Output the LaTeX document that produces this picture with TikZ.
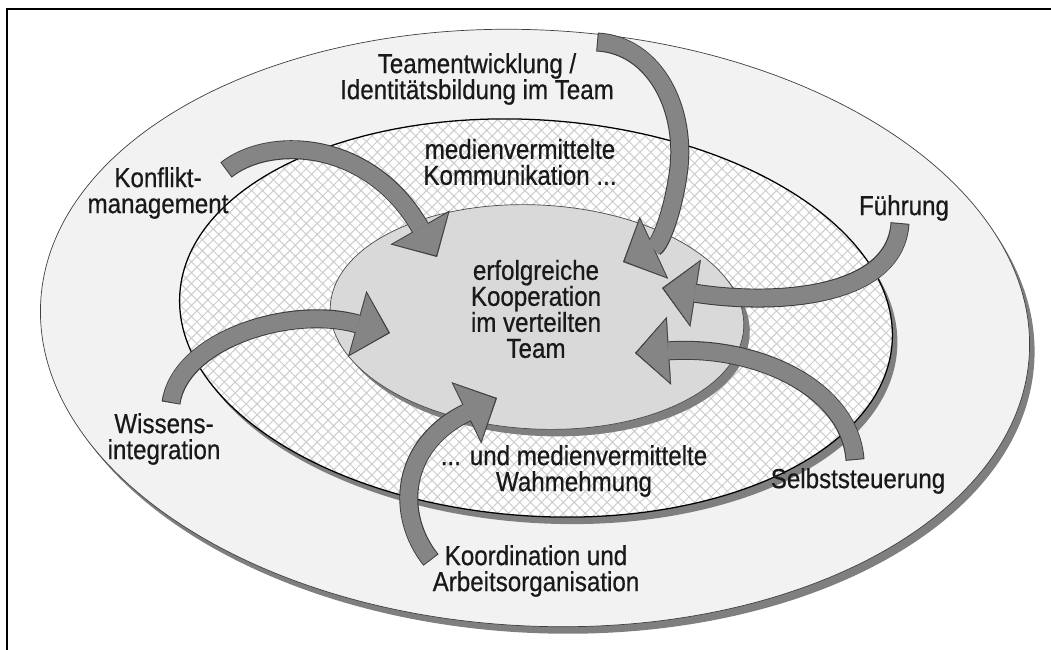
\documentclass[tikz,border=0pt]{standalone}
\usepackage{fontspec}
\setmainfont{Liberation Sans}[FakeStretch=0.88,FakeBold=0.6]
\usetikzlibrary{arrows.meta,patterns.meta}
\definecolor{RingOuter}{HTML}{F2F2F2}
\definecolor{RingInner}{HTML}{D9D9D9}
\definecolor{RingShadow}{HTML}{7F7F7F}
\definecolor{BandGray}{HTML}{858585}
\definecolor{BandEdge}{HTML}{3C3C3C}
\definecolor{HatchGray}{HTML}{CDCDCD}

\begin{document}
\begin{tikzpicture}[
  x=0.025cm, y=-0.025cm,
  ringshadow/.style={fill=RingShadow},
  outerring/.style={draw=black!75, line width=0.5pt, fill=RingOuter},
  midring/.style={draw=black, line width=0.9pt, preaction={fill=white},
    pattern={Hatch[angle=45,distance=5.5pt,line width=0.7pt]}, pattern color=HatchGray},
  innerring/.style={draw=black!70, line width=0.5pt, fill=RingInner},
  bandarrow/.style={
    draw=BandGray, line width=12.1pt, shorten >=1.3pt, shorten <=0.7pt,
    -{Triangle[length=22.2pt,width=45pt,line width=0.2pt]},
    preaction={draw=BandEdge, line width=13.5pt, shorten >=0pt, shorten <=0pt,
      -{Triangle[length=24.2pt,width=48.4pt,line width=0.2pt]}}
  },
  ringtext/.style={align=center, inner sep=0pt, text=black!90,
    font=\fontsize{19.5pt}{18.5pt}\selectfont}
]
\useasboundingbox (0,0) rectangle (1051,650);
\draw[line width=1.4pt] (7,650) -- (7,9) -- (1051,9);

\fill[ringshadow, rotate around={-3:(540,335)}] (540,335) ellipse [x radius=495, y radius=298];
\filldraw[outerring, rotate around={-3:(535,328)}] (535,328) ellipse [x radius=495, y radius=298];
\fill[ringshadow, rotate around={-4:(541,325)}] (541,325) ellipse [x radius=357, y radius=198];
\filldraw[midring, rotate around={-4:(536,318)}] (536,318) ellipse [x radius=357, y radius=198];
\fill[ringshadow, rotate around={-3:(543,324)}] (543,324) ellipse [x radius=207, y radius=112];
\filldraw[innerring, rotate around={-3:(537,317)}] (537,317) ellipse [x radius=207, y radius=112];

\coordinate (konflikt-tail) at (226,170);
\coordinate (konflikt-tip) at (437,257);
\coordinate (team-tail) at (597,42);
\coordinate (team-tip) at (623,262);
\coordinate (fuehrung-tail) at (900,223);
\coordinate (fuehrung-tip) at (662,288);
\coordinate (selbst-tail) at (855,460);
\coordinate (selbst-tip) at (635,353);
\coordinate (koord-tail) at (431,560);
\coordinate (koord-tip) at (497,398);
\coordinate (wissen-tail) at (171,403);
\coordinate (wissen-tip) at (390,333);

\draw[bandarrow] (konflikt-tail) .. controls (270,135) and (370,140) .. (konflikt-tip);
\draw[bandarrow] (team-tail) .. controls (655,45) and (688,110) .. (678,175)
  .. controls (672,215) and (660,245) .. (team-tip);
\draw[bandarrow] (fuehrung-tail) .. controls (895,300) and (770,305) .. (fuehrung-tip);
\draw[bandarrow] (selbst-tail) .. controls (850,390) and (760,345) .. (selbst-tip);
\draw[bandarrow] (koord-tail) .. controls (395,515) and (400,445) .. (koord-tip);
\draw[bandarrow] (wissen-tail) .. controls (180,340) and (290,305) .. (wissen-tip);

\node[ringtext] (teamdev) at (477,79) {Teamentwicklung /\\Identitätsbildung im Team};
\node[ringtext] (konflikt) at (158,193) {Konflikt-\\management};
\node[ringtext] (kommunikation) at (520,162) {medienvermittelte\\Kommunikation ...};
\node[ringtext] (fuehrung) at (904,208) {Führung};
\node[ringtext] (kooperation) at (536,309) {erfolgreiche\\Kooperation\\im verteilten\\Team};
\node[ringtext] (wissen) at (164,439) {Wissens-\\integration};
\node[ringtext] (wahrnehmung) at (574,471) {... und medienvermittelte\\Wahmehmung};
\node[ringtext] (selbst) at (858,481) {Selbststeuerung};
\node[ringtext] (koordination) at (536,571) {Koordination und\\Arbeitsorganisation};
\end{tikzpicture}
\end{document}
